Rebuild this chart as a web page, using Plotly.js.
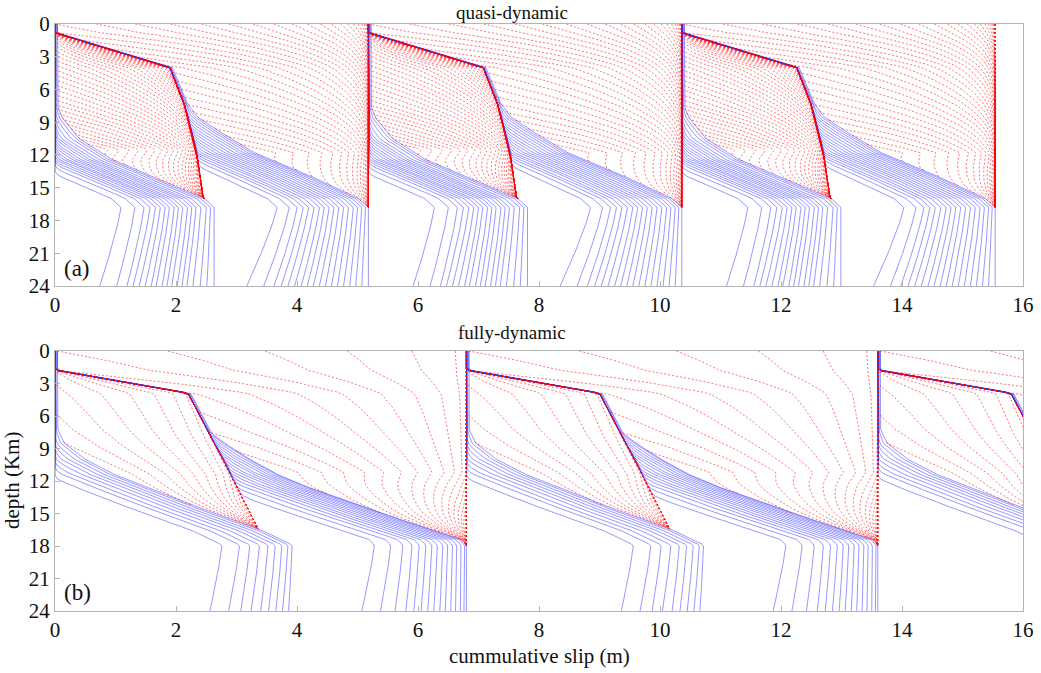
<!DOCTYPE html>
<html><head><meta charset="utf-8">
<script src="https://cdn.plot.ly/plotly-3.0.1.min.js"></script>
<style>html,body{margin:0;padding:0;background:#fff}#chart{width:1041px;height:673px}</style>
</head><body><div id="chart"></div>
<script>
// ================= Panel (a): quasi-dynamic =================
const qdCycleStarts = [0, 5.18, 10.36];
const qdPeriod = 5.18;
const qdBendDepth = 16.8;
// profile at the start of event A (last interseismic line)
const qdStartA_depth = [0, 7.4, 8.5, 10.5, 12.4, 15.9, 16.8, 24];
const qdStartA_slip  = [0, 0, 0.10, 0.40, 0.94, 2.45, 2.63, 2.63];
// profile at the end of event A
const qdEndA_depth = [0, 0.8, 4.0, 7.0, 11.8, 15.9, 16.8, 24];
const qdEndA_slip  = [0, 0, 1.90, 2.12, 2.34, 2.45, 2.63, 2.63];
// profile at the start of event B
const qdStartB_depth = [0, 0.8, 4.0, 7.0, 8.5, 9.7, 11.8, 13.5, 15.9, 16.8, 24];
const qdStartB_slip  = [0, 0, 1.90, 2.12, 2.35, 2.67, 3.30, 4.05, 5.00, 5.18, 5.18];
// profile at the end of event B
const qdEndB_depth = [0, 16.8, 24];
const qdEndB_slip  = [5.18, 5.18, 5.18];
// interseismic lines: slip at 24 km and at the bend depth
const qdInter1Bottom = [0.74,1.02,1.19,1.29,1.39,1.49,1.59,1.67,1.77,1.85,1.93,2.02,2.10,2.18,2.28,2.40,2.51,2.63];
const qdInter1Bend   = [1.09,1.32,1.47,1.57,1.66,1.74,1.82,1.89,1.97,2.04,2.11,2.19,2.26,2.33,2.41,2.50,2.57,2.63];
const qdInter2Bottom = [3.17,3.45,3.62,3.74,3.85,3.96,4.07,4.17,4.27,4.37,4.47,4.57,4.67,4.77,4.87,4.97,5.07,5.18];
const qdInter2Bend   = [3.67,3.87,4.00,4.10,4.19,4.28,4.37,4.45,4.53,4.61,4.69,4.77,4.85,4.93,5.00,5.07,5.13,5.18];
// coseismic snapshots: nucleation depth, front speed, rise, rise factor at surface, number of snapshots, easing
const qdEventA = {nucleation: 11.5, speed: 1.0, rise: 9, riseTop: 1.0, snapshots: 45, easing: 2.5};
const qdEventB = {nucleation: 11.8, speed: 1.0, rise: 11, riseTop: 1.6, snapshots: 40, easing: 3.5};

// ================= Panel (b): fully-dynamic =================
const fdCycleStarts = [0, 6.8, 13.6];
const fdPeriod = 6.8;
const fdBendDepth = 17.9;
const fdStartA_depth = [0, 7.1, 8.5, 10.0, 11.3, 14.0, 16.4, 17.9, 24];
const fdStartA_slip  = [0, 0, 0.15, 0.50, 0.94, 2.15, 3.36, 3.92, 3.86];
const fdEndA_depth = [0, 1.75, 3.9, 7.5, 10.0, 14.0, 16.4, 17.9, 24];
const fdEndA_slip  = [0, 0, 2.20, 2.53, 2.78, 3.13, 3.36, 3.92, 3.86];
const fdStartB_depth = [0, 1.75, 3.9, 7.5, 9.6, 11.2, 12.3, 15.0, 17.3, 17.9, 24];
const fdStartB_slip  = [0, 0, 2.20, 2.53, 3.10, 3.60, 4.05, 5.40, 6.69, 6.80, 6.80];
const fdEndB_depth = [0, 17.9, 24];
const fdEndB_slip  = [6.8, 6.8, 6.8];
const fdInter1Bottom = [2.56,2.87,3.07,3.24,3.40,3.53,3.65,3.76,3.86];
const fdInter1Bend   = [2.76,3.05,3.22,3.38,3.52,3.64,3.75,3.85,3.92];
const fdInter2Bottom = [5.07,5.38,5.62,5.80,5.93,6.05,6.16,6.26,6.36,6.45,6.54,6.62,6.70,6.76,6.80];
const fdInter2Bend   = [5.28,5.55,5.75,5.90,6.02,6.13,6.23,6.32,6.41,6.49,6.57,6.64,6.71,6.77,6.80];
const fdEventA = {nucleation: 11.3, speed: 6.0, rise: 6, riseTop: 0.3, snapshots: 17, easing: 1.6};
const fdEventB = {nucleation: 11.2, speed: 5.0, rise: 6, riseTop: 0.35, snapshots: 22, easing: 1.6};

// axis ticks
const slipTicks = [0, 2, 4, 6, 8, 10, 12, 14, 16];
const depthTicks = [0, 3, 6, 9, 12, 15, 18, 21, 24];

// ---------------------------------------------------------
function profile(zs, xs) {
  return function (z) {
    if (z <= zs[0]) return xs[0];
    for (let i = 1; i < zs.length; i++) {
      if (z <= zs[i]) { const f = (z - zs[i-1]) / (zs[i] - zs[i-1]); return xs[i-1] + f * (xs[i] - xs[i-1]); }
    }
    return xs[xs.length - 1];
  };
}
function smax(a, b) {
  const eps = 0.06, d = (a - b) / eps;
  if (d > 30) return a;
  return b + eps * Math.log(1 + Math.exp(d));
}
const depthGrid = [];
for (let k = 0; k <= 120; k++) depthGrid.push(k * 0.2);

function addInter(tr, c, S, L, bottoms, bends, zk) {
  const last = bends[bends.length - 1];
  for (let i = 0; i < bends.length; i++) {
    const shift = last - bends[i];
    for (const z of depthGrid) {
      let x;
      if (z <= zk) x = smax(S(z) - shift, L(z));
      else { const f = (z - zk) / (24 - zk); x = bends[i] + (bottoms[i] - bends[i]) * Math.pow(f, 1.2); }
      tr.x.push(c + x); tr.y.push(z);
    }
    tr.x.push(null); tr.y.push(null);
  }
}
function addEvent(tr, c, S, E, ev, zk) {
  const T = ev.nucleation / ev.speed + ev.rise * Math.max(1, ev.riseTop);
  for (let k = 1; k <= ev.snapshots; k++) {
    const t = T * k / ev.snapshots;
    const xs = [], act = [];
    for (const z of depthGrid) {
      const tau = ev.rise * (ev.riseTop + (1 - ev.riseTop) * Math.min(z / zk, 1));
      let w = (t - Math.abs(z - ev.nucleation) / ev.speed) / tau;
      w = Math.max(0, Math.min(1, w));
      w = 1 - Math.pow(1 - w, ev.easing);
      const d = (E(z) - S(z)) * w;
      xs.push(c + S(z) + d);
      act.push(d > 0.004);
    }
    let open = false;
    for (let j = 0; j < depthGrid.length; j++) {
      const keep = act[j] || (j > 0 && act[j-1]) || (j < depthGrid.length - 1 && act[j+1]);
      if (keep) { tr.x.push(xs[j]); tr.y.push(depthGrid[j]); open = true; }
      else if (open) { tr.x.push(null); tr.y.push(null); open = false; }
    }
    if (open) { tr.x.push(null); tr.y.push(null); }
  }
}
function buildPanel(p, xa, ya) {
  const blue = {x: [], y: []}, red = {x: [], y: []};
  const SA = profile(p.SAz, p.SAx), EA = profile(p.EAz, p.EAx);
  const SB = profile(p.SBz, p.SBx), EB = profile(p.EBz, p.EBx);
  const locked0 = z => EB(z) - p.period;
  for (const c of p.cycles) {
    addInter(blue, c, SA, locked0, p.i1b, p.i1s, p.zk);
    addEvent(red, c, SA, EA, p.evA, p.zk);
    addInter(blue, c, SB, EA, p.i2b, p.i2s, p.zk);
    addEvent(red, c, SB, EB, p.evB, p.zk);
  }
  return [
    {type: 'scatter', mode: 'lines', x: blue.x, y: blue.y, xaxis: xa, yaxis: ya, connectgaps: false,
     line: {color: 'rgba(50,50,255,0.5)', width: 1}, hoverinfo: 'skip'},
    {type: 'scatter', mode: 'lines', x: red.x, y: red.y, xaxis: xa, yaxis: ya, connectgaps: false,
     line: {color: 'rgba(255,0,0,0.55)', width: 1, dash: '2px,2px'}, hoverinfo: 'skip'}
  ];
}

const traces = [].concat(
  buildPanel({cycles: qdCycleStarts, period: qdPeriod, zk: qdBendDepth,
    SAz: qdStartA_depth, SAx: qdStartA_slip, EAz: qdEndA_depth, EAx: qdEndA_slip,
    SBz: qdStartB_depth, SBx: qdStartB_slip, EBz: qdEndB_depth, EBx: qdEndB_slip,
    i1b: qdInter1Bottom, i1s: qdInter1Bend, i2b: qdInter2Bottom, i2s: qdInter2Bend,
    evA: qdEventA, evB: qdEventB}, 'x', 'y'),
  buildPanel({cycles: fdCycleStarts, period: fdPeriod, zk: fdBendDepth,
    SAz: fdStartA_depth, SAx: fdStartA_slip, EAz: fdEndA_depth, EAx: fdEndA_slip,
    SBz: fdStartB_depth, SBx: fdStartB_slip, EBz: fdEndB_depth, EBx: fdEndB_slip,
    i1b: fdInter1Bottom, i1s: fdInter1Bend, i2b: fdInter2Bottom, i2s: fdInter2Bend,
    evA: fdEventA, evB: fdEventB}, 'x2', 'y2')
);

const FONT = 'Liberation Serif, Times New Roman, serif';
const axisBase = {showline: true, mirror: true, linecolor: '#b4b4b4', linewidth: 1,
  ticks: 'inside', ticklen: 5, tickcolor: '#b4b4b4', showgrid: false, zeroline: false,
  tickfont: {family: FONT, size: 21, color: '#111'}};

const layout = {
  width: 1041, height: 673, margin: {l: 55, r: 18, t: 24, b: 62},
  paper_bgcolor: '#fff', plot_bgcolor: '#fff', showlegend: false,
  xaxis: Object.assign({}, axisBase, {domain: [0, 1], range: [0, 16], tickvals: slipTicks, anchor: 'y'}),
  yaxis: Object.assign({}, axisBase, {domain: [0.5537, 1], range: [24, 0], tickvals: depthTicks, anchor: 'x'}),
  xaxis2: Object.assign({}, axisBase, {domain: [0, 1], range: [0, 16], tickvals: slipTicks, anchor: 'y2'}),
  yaxis2: Object.assign({}, axisBase, {domain: [0, 0.4429], range: [24, 0], tickvals: depthTicks, anchor: 'x2'}),
  annotations: [
    {text: 'quasi-dynamic', xref: 'paper', yref: 'paper', x: 0.472, y: 1.0204, showarrow: false, xanchor: 'center', yanchor: 'middle', font: {family: FONT, size: 19, color: '#111'}},
    {text: 'fully-dynamic', xref: 'paper', yref: 'paper', x: 0.472, y: 0.4736, showarrow: false, xanchor: 'center', yanchor: 'middle', font: {family: FONT, size: 19, color: '#111'}},
    {text: '(a)', xref: 'paper', yref: 'paper', x: 0.007, y: 0.5843, showarrow: false, xanchor: 'left', yanchor: 'middle', font: {family: FONT, size: 23, color: '#111'}},
    {text: '(b)', xref: 'paper', yref: 'paper', x: 0.007, y: 0.0307, showarrow: false, xanchor: 'left', yanchor: 'middle', font: {family: FONT, size: 23, color: '#111'}},
    {text: 'cummulative slip (m)', xref: 'paper', yref: 'paper', x: 0.501, y: -0.0767, showarrow: false, xanchor: 'center', yanchor: 'middle', font: {family: FONT, size: 21, color: '#111'}},
    {text: 'depth (Km)', xref: 'paper', yref: 'paper', x: -0.0444, y: 0.2215, showarrow: false, textangle: -90, xanchor: 'center', yanchor: 'middle', font: {family: FONT, size: 21, color: '#111'}}
  ]
};
Plotly.newPlot('chart', traces, layout, {displayModeBar: false, staticPlot: true});
</script></body></html>
